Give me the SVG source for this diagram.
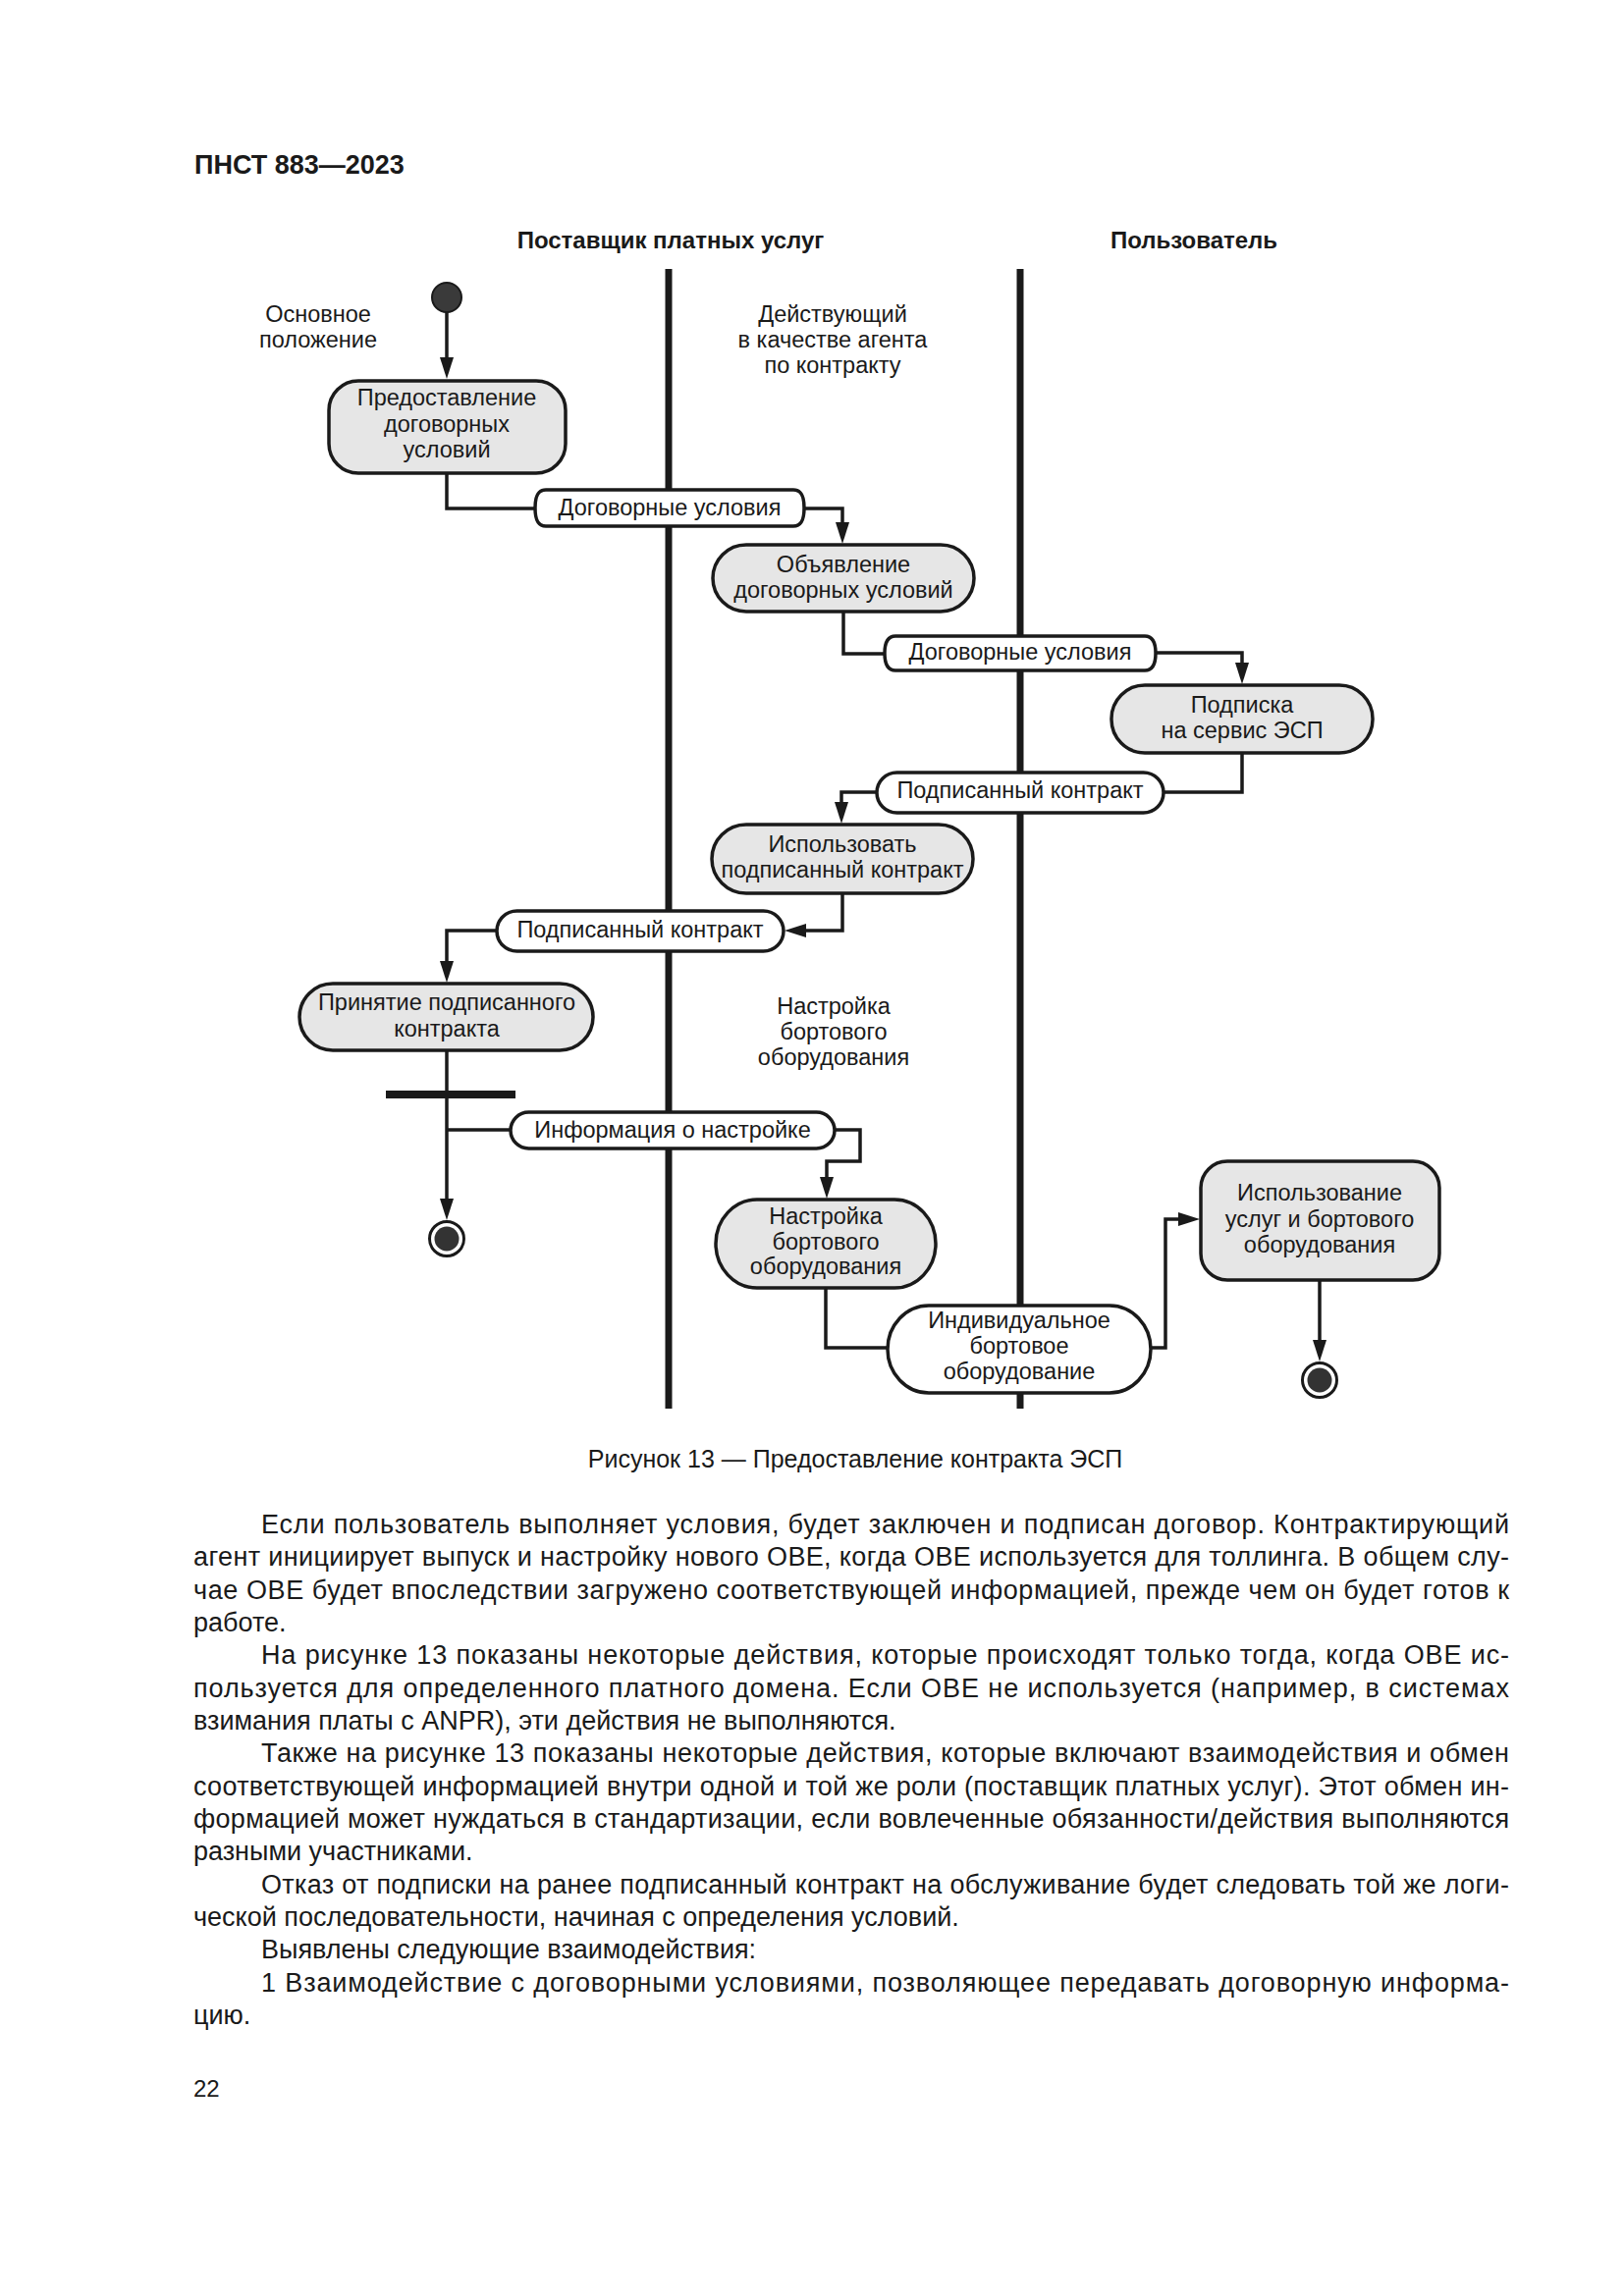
<svg xmlns="http://www.w3.org/2000/svg" width="1654" height="2339" viewBox="0 0 1654 2339">
<style>
text{font-family:"Liberation Sans",Arial,sans-serif;fill:#1a1a1a}
.d{font-size:23.5px;text-anchor:middle}
.t{font-size:24px;font-weight:bold;text-anchor:middle}
.h{font-size:27px;font-weight:bold}
.cap{font-size:25px;text-anchor:middle}
.p{font-size:27px}
.lane{stroke:#1a1a1a;stroke-width:7}
.act{fill:#e6e6e6;stroke:#1a1a1a;stroke-width:3.5}
.obj{fill:#fff;stroke:#1a1a1a;stroke-width:3.5}
.con{fill:none;stroke:#1a1a1a;stroke-width:3.5}
.arr{marker-end:url(#ah)}
</style>
<defs>
<marker id="ah" markerUnits="userSpaceOnUse" markerWidth="22" markerHeight="14" refX="12" refY="7" orient="auto">
<path d="M0,0 L22,7 L0,14 Z" fill="#1a1a1a"/>
</marker>
</defs>
<rect width="1654" height="2339" fill="#fff"/>
<text class="h" x="198" y="177">ПНСТ 883—2023</text>
<g id="lanes">
<text class="t" x="683" y="253">Поставщик платных услуг</text>
<text class="t" x="1216" y="253">Пользователь</text>
<line class="lane" x1="681" y1="274" x2="681" y2="1435"/>
<line class="lane" x1="1039" y1="274" x2="1039" y2="1435"/>
<text class="d" x="324" y="328">Основное</text>
<text class="d" x="324" y="354">положение</text>
<text class="d" x="848" y="328">Действующий</text>
<text class="d" x="848" y="354">в качестве агента</text>
<text class="d" x="848" y="380">по контракту</text>
<text class="d" x="849" y="1033">Настройка</text>
<text class="d" x="849" y="1059">бортового</text>
<text class="d" x="849" y="1085">оборудования</text>
</g>
<g id="connectors">
<path class="con arr" d="M455,318 V376"/>
<path class="con" d="M455,482 V518 H546"/>
<path class="con arr" d="M819,518 H858 V544"/>
<path class="con" d="M859,623 V666 H903"/>
<path class="con arr" d="M1177,665 H1265 V687"/>
<path class="con" d="M1265,767 V807 H1186"/>
<path class="con arr" d="M893,807 H857 V829"/>
<path class="con arr" d="M858,910 V948 H809"/>
<path class="con arr" d="M506,948 H455 V991"/>
<path class="con arr" d="M455,1070 V1233"/>
<path class="con" d="M455,1151 H521"/>
<path class="con arr" d="M850,1151 H876 V1183 H842 V1211"/>
<path class="con" d="M841,1312 V1373 H905"/>
<path class="con arr" d="M1172,1373 H1187 V1242 H1212"/>
<path class="con arr" d="M1344,1304 V1377"/>
</g>
<g id="start">
<circle cx="455" cy="303" r="15" fill="#3a3a3a" stroke="#1a1a1a" stroke-width="2"/>
</g>
<g id="n1">
<rect class="act" x="335" y="388" width="241" height="94" rx="30"/>
<text class="d" x="455" y="413">Предоставление</text>
<text class="d" x="455" y="440">договорных</text>
<text class="d" x="455" y="466">условий</text>
</g>
<g id="o1">
<path class="obj" d="M556,499 H808 C816,499 819,505 819,517.5 C819,530 816,536 808,536 H556 C548,536 545,530 545,517.5 C545,505 548,499 556,499 Z"/>
<text class="d" x="682" y="525">Договорные условия</text>
</g>
<g id="n2">
<rect class="act" x="726" y="555" width="266" height="68" rx="34"/>
<text class="d" x="859" y="583">Объявление</text>
<text class="d" x="859" y="609">договорных условий</text>
</g>
<g id="o2">
<path class="obj" d="M912,648 H1166 C1174,648 1177,654 1177,665.5 C1177,677 1174,683 1166,683 H912 C904,683 901,677 901,665.5 C901,654 904,648 912,648 Z"/>
<text class="d" x="1039" y="672">Договорные условия</text>
</g>
<g id="n3">
<rect class="act" x="1132" y="698" width="266" height="69" rx="34"/>
<text class="d" x="1265" y="726">Подписка</text>
<text class="d" x="1265" y="752">на сервис ЭСП</text>
</g>
<g id="o3">
<rect class="obj" x="893" y="787" width="292" height="41" rx="20.5"/>
<text class="d" x="1039" y="813">Подписанный контракт</text>
</g>
<g id="n4">
<rect class="act" x="725" y="840" width="266" height="70" rx="35"/>
<text class="d" x="858" y="868">Использовать</text>
<text class="d" x="858" y="894">подписанный контракт</text>
</g>
<g id="o4">
<rect class="obj" x="506" y="928" width="292" height="41" rx="20.5"/>
<text class="d" x="652" y="955">Подписанный контракт</text>
</g>
<g id="n5">
<rect class="act" x="305" y="1002" width="299" height="68" rx="34"/>
<text class="d" x="455" y="1029">Принятие подписанного</text>
<text class="d" x="455" y="1056">контракта</text>
</g>
<g id="fork">
<rect x="393" y="1111" width="132" height="8" fill="#1a1a1a"/>
</g>
<g id="end1">
<circle cx="455" cy="1262" r="17.5" fill="#fff" stroke="#1a1a1a" stroke-width="3"/>
<circle cx="455" cy="1262" r="12.5" fill="#333"/>
</g>
<g id="o5">
<rect class="obj" x="520" y="1133" width="330" height="37" rx="18.5"/>
<text class="d" x="685" y="1159">Информация о настройке</text>
</g>
<g id="n6">
<rect class="act" x="729" y="1222" width="224" height="90" rx="42" ry="45"/>
<text class="d" x="841" y="1247">Настройка</text>
<text class="d" x="841" y="1273">бортового</text>
<text class="d" x="841" y="1298">оборудования</text>
</g>
<g id="o6">
<rect class="obj" x="904" y="1330" width="268" height="89" rx="42" ry="44.5"/>
<text class="d" x="1038" y="1353">Индивидуальное</text>
<text class="d" x="1038" y="1379">бортовое</text>
<text class="d" x="1038" y="1405">оборудование</text>
</g>
<g id="n7">
<rect class="act" x="1223" y="1183" width="243" height="121" rx="27"/>
<text class="d" x="1344" y="1223">Использование</text>
<text class="d" x="1344" y="1250">услуг и бортового</text>
<text class="d" x="1344" y="1276">оборудования</text>
</g>
<g id="end2">
<circle cx="1344" cy="1406" r="17.5" fill="#fff" stroke="#1a1a1a" stroke-width="3"/>
<circle cx="1344" cy="1406" r="12.5" fill="#333"/>
</g>
<text class="cap" x="871" y="1495">Рисунок 13 — Предоставление контракта ЭСП</text>
<g id="body">
<text class="p" x="266" y="1562" textLength="1271">Если пользователь выполняет условия, будет заключен и подписан договор. Контрактирующий</text>
<text class="p" x="197" y="1595.3" textLength="1340">агент инициирует выпуск и настройку нового ОВЕ, когда ОВЕ используется для толлинга. В общем слу-</text>
<text class="p" x="197" y="1628.7" textLength="1340">чае ОВЕ будет впоследствии загружено соответствующей информацией, прежде чем он будет готов к</text>
<text class="p" x="197" y="1662">работе.</text>
<text class="p" x="266" y="1695.3" textLength="1271">На рисунке 13 показаны некоторые действия, которые происходят только тогда, когда ОВЕ ис-</text>
<text class="p" x="197" y="1728.7" textLength="1340">пользуется для определенного платного домена. Если ОВЕ не используется (например, в системах</text>
<text class="p" x="197" y="1762">взимания платы с ANPR), эти действия не выполняются.</text>
<text class="p" x="266" y="1795.3" textLength="1271">Также на рисунке 13 показаны некоторые действия, которые включают взаимодействия и обмен</text>
<text class="p" x="197" y="1828.7" textLength="1340">соответствующей информацией внутри одной и той же роли (поставщик платных услуг). Этот обмен ин-</text>
<text class="p" x="197" y="1862" textLength="1340">формацией может нуждаться в стандартизации, если вовлеченные обязанности/действия выполняются</text>
<text class="p" x="197" y="1895.3">разными участниками.</text>
<text class="p" x="266" y="1928.7" textLength="1271">Отказ от подписки на ранее подписанный контракт на обслуживание будет следовать той же логи-</text>
<text class="p" x="197" y="1962">ческой последовательности, начиная с определения условий.</text>
<text class="p" x="266" y="1995.3">Выявлены следующие взаимодействия:</text>
<text class="p" x="266" y="2028.7" textLength="1271">1 Взаимодействие с договорными условиями, позволяющее передавать договорную информа-</text>
<text class="p" x="197" y="2062">цию.</text>
<text x="197" y="2136" style="font-size:24px">22</text>
</g>
</svg>
